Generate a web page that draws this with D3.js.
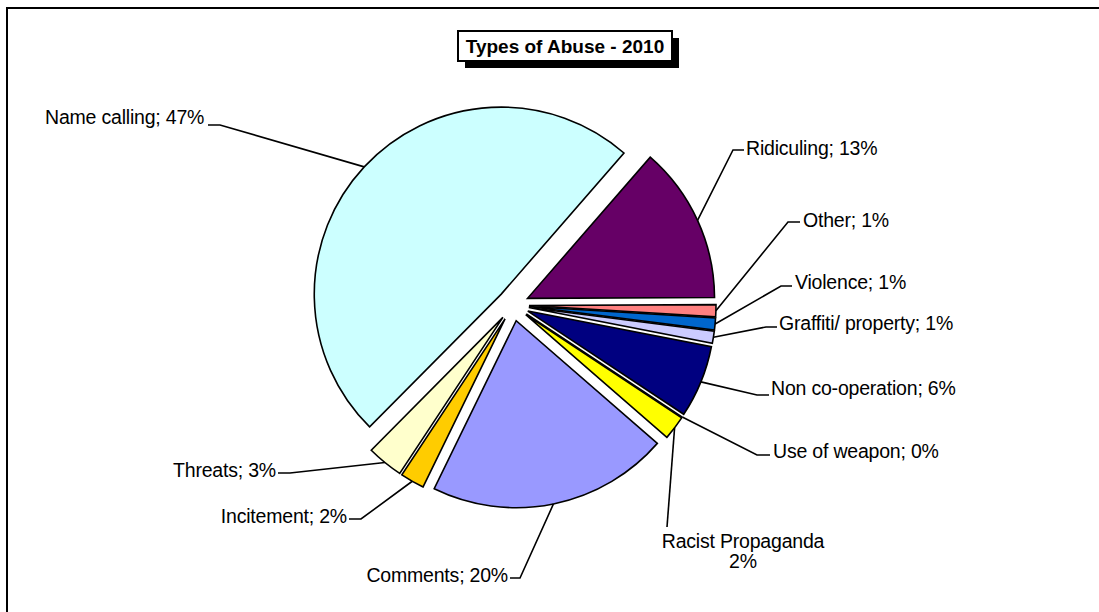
<!DOCTYPE html>
<html>
<head>
<meta charset="utf-8">
<script src="https://cdn.jsdelivr.net/npm/d3@7"></script>
<style>
  html, body { margin: 0; padding: 0; background: #fff; }
  svg { display: block; }
  text { font-family: "Liberation Sans", Arial, sans-serif; fill: #000; }
</style>
</head>
<body>
<svg id="chart" width="1099" height="612"></svg>
<script>
// Abuse types in drawing order (clockwise), shares in percent
const categories = ["Comments", "Incitement", "Threats", "Name calling", "Ridiculing",
  "Other", "Violence", "Graffiti/ property", "Non co-operation", "Use of weapon", "Racist Propaganda"];
const shares = [20, 2, 3, 47, 13, 1, 1, 1, 6, 0, 2];
const sliceColors = ["#9999FF", "#FFCC00", "#FFFFCC", "#CCFFFF", "#660066",
  "#FF8080", "#0066CC", "#CCCCFF", "#000080", "#FF00FF", "#FFFF00"];
const chartTitle = "Types of Abuse - 2010";

// Label placement: text position, anchor and the elbow of each leader line
const labelLayout = {
  "Name calling":       { x: 45,  y: 124, anchor: "start", elbow: [208, 125], stub: [220, 125] },
  "Ridiculing":         { x: 746, y: 155, anchor: "start", elbow: [744, 150], stub: [733, 150] },
  "Other":              { x: 803, y: 227, anchor: "start", elbow: [800, 222], stub: [788, 222] },
  "Violence":           { x: 795, y: 289, anchor: "start", elbow: [792, 286], stub: [781, 286] },
  "Graffiti/ property": { x: 779, y: 330, anchor: "start", elbow: [777, 327], stub: [766, 327] },
  "Non co-operation":   { x: 771, y: 395, anchor: "start", elbow: [769, 395], stub: [757, 395] },
  "Use of weapon":      { x: 773, y: 458, anchor: "start", elbow: [770, 455], stub: [757, 455] },
  "Racist Propaganda":  { x: 743, y: 548, anchor: "middle", twoLine: true, elbow: [667, 527], stub: [667, 527] },
  "Comments":           { x: 508, y: 582, anchor: "end", elbow: [510, 578], stub: [520, 578] },
  "Incitement":         { x: 347, y: 523, anchor: "end", elbow: [349, 519], stub: [361, 519] },
  "Threats":            { x: 276, y: 477, anchor: "end", elbow: [278, 473], stub: [290, 473] }
};

const svg = d3.select("#chart");
const cx = 513, cy = 305, R = 187, explode = 16;
const firstAngle = 131 * Math.PI / 180;

// Outer chart frame (runs past the right and bottom edges)
svg.append("rect")
  .attr("x", 7).attr("y", 8).attr("width", 1200).attr("height", 700)
  .attr("fill", "#fff").attr("stroke", "#000").attr("stroke-width", 2);

const data = categories.map((c, i) => ({ name: c, value: shares[i], color: sliceColors[i] }));

const pie = d3.pie().sort(null).value(d => d.value)
  .startAngle(firstAngle).endAngle(firstAngle + 2 * Math.PI);
const arcs = pie(data);
const arc = d3.arc().innerRadius(0).outerRadius(R);

const offset = a => {
  const mid = (a.startAngle + a.endAngle) / 2;
  return [explode * Math.sin(mid), -explode * Math.cos(mid)];
};

const g = svg.append("g").attr("transform", `translate(${cx},${cy})`);

g.selectAll("path.slice").data(arcs).join("path")
  .attr("class", "slice")
  .attr("d", arc)
  .attr("transform", d => { const [ox, oy] = offset(d); return `translate(${ox},${oy})`; })
  .attr("fill", d => d.data.color)
  .attr("stroke", "#000")
  .attr("stroke-width", 1.6)
  .attr("stroke-linejoin", "miter");

// Leader lines: from the outer edge of each slice to the label stub
arcs.forEach(d => {
  const lay = labelLayout[d.data.name];
  const mid = (d.startAngle + d.endAngle) / 2;
  const [ox, oy] = offset(d);
  const px = cx + ox + R * Math.sin(mid);
  const py = cy + oy - R * Math.cos(mid);
  const pts = [[px, py], lay.stub, lay.elbow];
  svg.append("path")
    .attr("d", d3.line()(pts))
    .attr("fill", "none").attr("stroke", "#000").attr("stroke-width", 1.6);

  const t = svg.append("text")
    .attr("x", lay.x).attr("y", lay.y)
    .attr("text-anchor", lay.anchor)
    .attr("font-size", 19.5)
    .attr("letter-spacing", -0.2);
  if (lay.twoLine) {
    t.append("tspan").attr("x", lay.x).text(d.data.name);
    t.append("tspan").attr("x", lay.x).attr("dy", 20).text(d3.format("d")(d.data.value) + "%");
  } else {
    t.text(`${d.data.name}; ${d.data.value}%`);
  }
});

// Title box with drop shadow
const tb = { x: 458, y: 31, w: 214, h: 30 };
svg.append("rect").attr("x", tb.x + 7).attr("y", tb.y + 7)
  .attr("width", tb.w).attr("height", tb.h).attr("fill", "#000");
svg.append("rect").attr("x", tb.x).attr("y", tb.y)
  .attr("width", tb.w).attr("height", tb.h)
  .attr("fill", "#fff").attr("stroke", "#000").attr("stroke-width", 2);
svg.append("text")
  .attr("x", tb.x + tb.w / 2).attr("y", tb.y + 22)
  .attr("text-anchor", "middle")
  .attr("font-size", 19).attr("font-weight", "bold")
  .text(chartTitle);
</script>
</body>
</html>
